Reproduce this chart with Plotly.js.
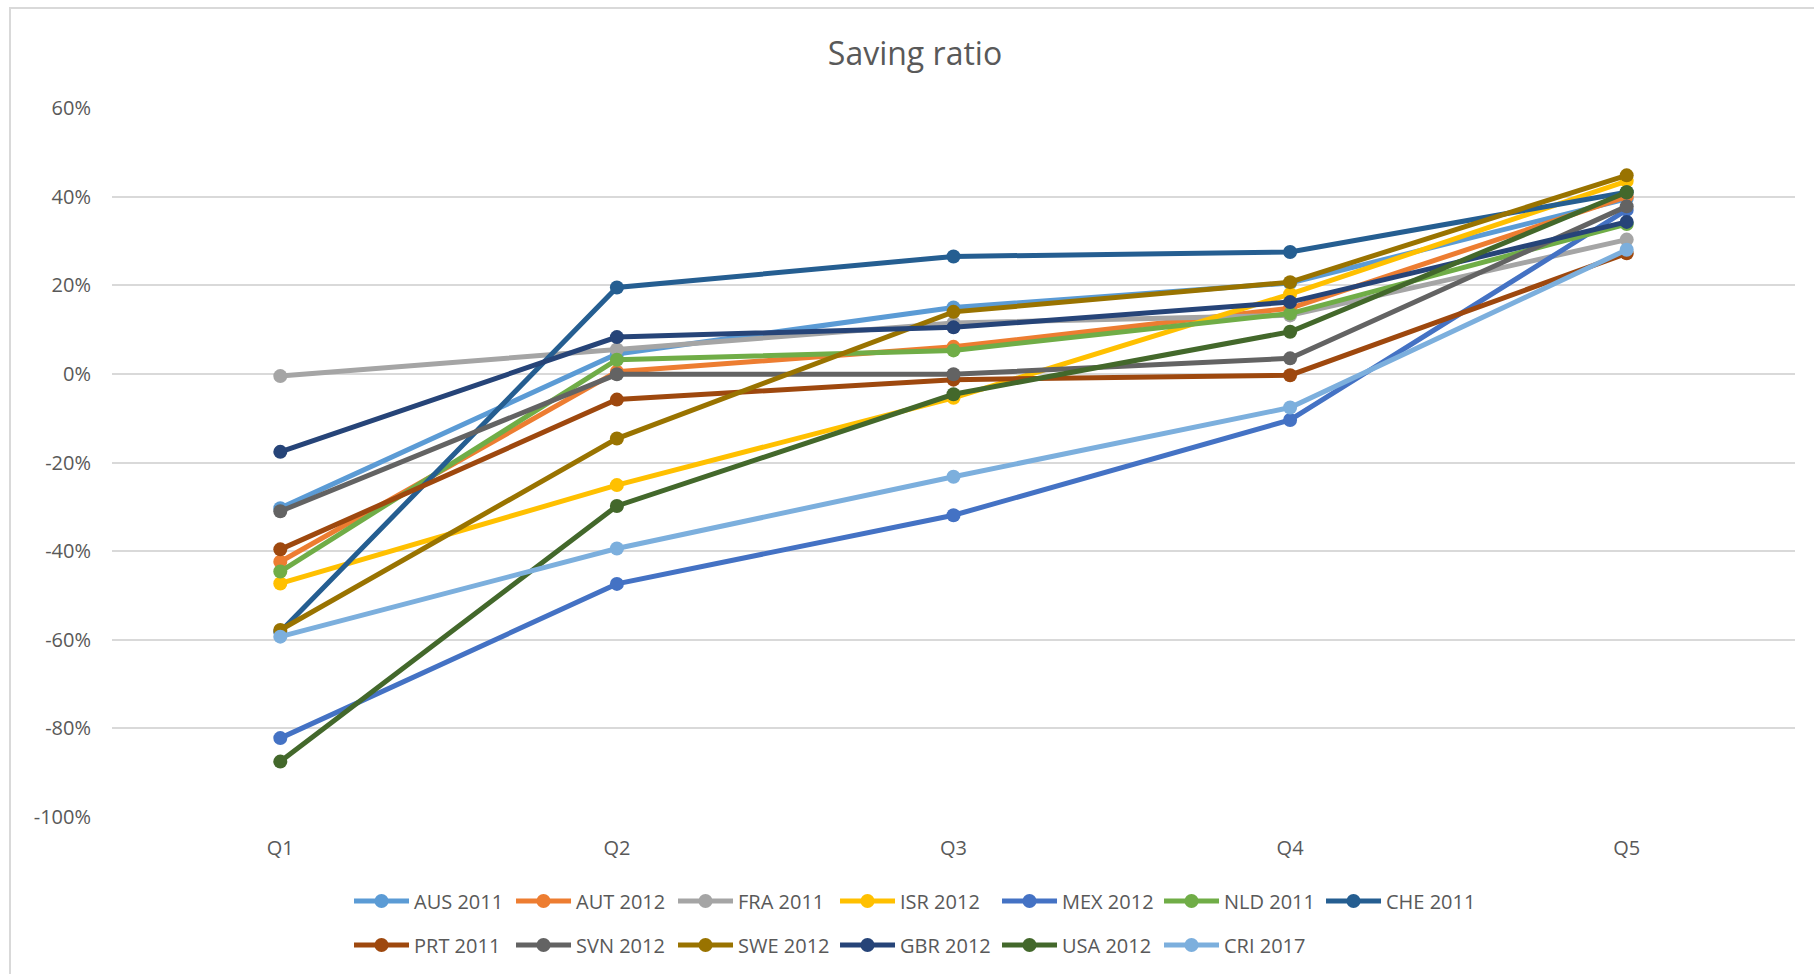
<!DOCTYPE html>
<html>
<head>
<meta charset="utf-8">
<script src="https://cdn.plot.ly/plotly-3.0.1.min.js"></script>
<style>
  html, body { margin: 0; padding: 0; background: #ffffff; }
  #chart { width: 1814px; height: 974px; }
  #frame { position: absolute; left: 9px; top: 7px; width: 1830px; height: 1000px;
           border-left: 2px solid #d9d9d9; border-top: 2px solid #d9d9d9; pointer-events: none; }
</style>
</head>
<body>
<div id="chart"></div>
<div id="frame"></div>
<script>
// ---- data (saving ratio, %) ----
var categories = ["Q1", "Q2", "Q3", "Q4", "Q5"];

var AUS_2011 = [-30.3, 4.5, 15.0, 20.5, 39.5];
var AUT_2012 = [-42.4, 0.5, 6.1, 14.8, 40.0];
var FRA_2011 = [-0.5, 5.5, 11.5, 13.2, 30.3];
var ISR_2012 = [-47.3, -25.1, -5.4, 18.0, 43.5];
var MEX_2012 = [-82.2, -47.4, -31.9, -10.4, 37.0];
var NLD_2011 = [-44.6, 3.2, 5.3, 13.6, 33.8];
var CHE_2011 = [-58.2, 19.5, 26.5, 27.5, 41.0];
var PRT_2011 = [-39.6, -5.8, -1.3, -0.3, 27.2];
var SVN_2012 = [-31.0, -0.1, -0.1, 3.5, 37.8];
var SWE_2012 = [-57.8, -14.6, 14.0, 20.7, 44.8];
var GBR_2012 = [-17.6, 8.3, 10.5, 16.2, 34.3];
var USA_2012 = [-87.5, -29.8, -4.6, 9.5, 41.0];
var CRI_2017 = [-59.3, -39.4, -23.2, -7.6, 28.0];

var seriesNames = ["AUS 2011", "AUT 2012", "FRA 2011", "ISR 2012", "MEX 2012", "NLD 2011", "CHE 2011",
                   "PRT 2011", "SVN 2012", "SWE 2012", "GBR 2012", "USA 2012", "CRI 2017"];
var seriesValues = [AUS_2011, AUT_2012, FRA_2011, ISR_2012, MEX_2012, NLD_2011, CHE_2011,
                    PRT_2011, SVN_2012, SWE_2012, GBR_2012, USA_2012, CRI_2017];
var seriesColors = ["#5B9BD5", "#ED7D31", "#A5A5A5", "#FFC000", "#4472C4", "#70AD47", "#255E91",
                    "#9E480E", "#636363", "#997300", "#264478", "#43682B", "#7CAFDD"];

var yTickVals = [-100, -80, -60, -40, -20, 0, 20, 40, 60];
var yTickText = ["-100%", "-80%", "-60%", "-40%", "-20%", "0%", "20%", "40%", "60%"];

var FONT = "Open Sans, Noto Sans, sans-serif";
var TXT = "#595959";

var traces = seriesNames.map(function (name, i) {
  return {
    type: "scatter",
    mode: "lines+markers",
    name: name,
    x: categories,
    y: seriesValues[i],
    line: { color: seriesColors[i], width: 5 },
    marker: { color: seriesColors[i], size: 14 },
    legend: i < 7 ? "legend" : "legend2",
    hoverinfo: "skip"
  };
});

var legendCommon = {
  orientation: "h",
  xref: "container", yref: "container",
  x: 0.1924, xanchor: "left",
  yanchor: "middle",
  entrywidthmode: "pixels", entrywidth: 92,
  itemwidth: 55,
  font: { family: FONT, size: 20, color: TXT },
  bgcolor: "rgba(0,0,0,0)",
  traceorder: "normal"
};

var layout = {
  width: 1814, height: 974,
  paper_bgcolor: "#ffffff", plot_bgcolor: "#ffffff",
  margin: { l: 112, r: 19, t: 108, b: 157 },
  title: {
    text: "Saving ratio",
    font: { family: FONT, size: 32, color: TXT },
    x: 915 / 1814, xanchor: "center", xref: "container",
    y: 1 - 54 / 974, yanchor: "middle", yref: "container"
  },
  xaxis: {
    type: "category",
    range: [-0.5, 4.5],
    showgrid: false, zeroline: false, showline: false,
    ticks: "",
    tickfont: { family: FONT, size: 20, color: TXT },
    ticklabelstandoff: 17,
    fixedrange: true
  },
  yaxis: {
    range: [-100, 60],
    tickvals: yTickVals, ticktext: yTickText,
    showgrid: true, gridcolor: "#d9d9d9", gridwidth: 2,
    zeroline: false, showline: false,
    ticks: "",
    tickfont: { family: FONT, size: 20, color: TXT },
    ticklabelstandoff: 20,
    fixedrange: true
  },
  showlegend: true,
  legend: Object.assign({}, legendCommon, { y: 1 - 901 / 974 }),
  legend2: Object.assign({}, legendCommon, { y: 1 - 945 / 974 })
};

Plotly.newPlot("chart", traces, layout, { displayModeBar: false, staticPlot: true });
</script>
</body>
</html>
